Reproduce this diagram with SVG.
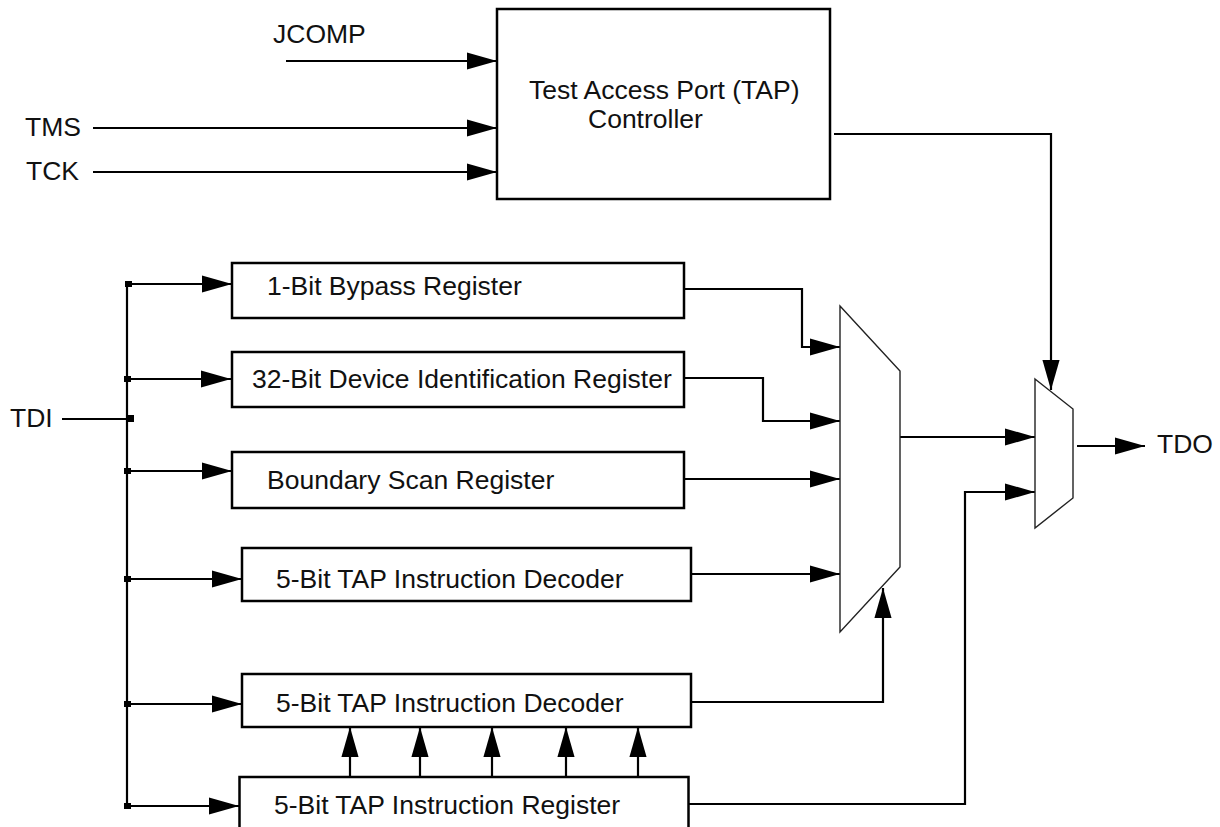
<svg xmlns="http://www.w3.org/2000/svg" width="1220" height="827" viewBox="0 0 1220 827">
<style>
text{font-family:"Liberation Sans",Arial,sans-serif;font-size:26.5px;fill:#111}
.box{fill:#fff;stroke:#000;stroke-width:2.5}
.mux{fill:#fff;stroke:#222;stroke-width:1.4}
.w{fill:none;stroke:#000;stroke-width:2.2}
.a{marker-end:url(#ah)}
.j{fill:#000}
</style>
<defs>
<marker id="ah" markerUnits="userSpaceOnUse" markerWidth="30" markerHeight="18" viewBox="0 0 28 16" refX="28" refY="8" orient="auto">
<path d="M0,0 L28,8 L0,16 z" fill="#000"/>
</marker>
</defs>
<rect width="1220" height="827" fill="#fff"/>
<g id="connectors">
<path class="w a" d="M286,61 H497"/>
<path class="w a" d="M93,128 H497"/>
<path class="w a" d="M93,172 H497"/>
<path class="w" d="M62,419 H127"/>
<path class="w" d="M127,281 V806"/>
<path class="w a" d="M127,284 H232"/>
<path class="w a" d="M127,379 H231"/>
<path class="w a" d="M127,471 H232"/>
<path class="w a" d="M127,579 H242"/>
<path class="w a" d="M127,704 H242"/>
<path class="w a" d="M127,806 H239"/>
<rect class="j" x="125" y="281" width="7" height="6"/>
<rect class="j" x="124" y="376" width="7" height="6"/>
<rect class="j" x="127" y="415" width="7" height="7"/>
<rect class="j" x="124" y="468" width="7" height="6"/>
<rect class="j" x="124" y="576" width="7" height="6"/>
<rect class="j" x="124" y="701" width="7" height="6"/>
<rect class="j" x="124" y="803" width="7" height="6"/>
<path class="w a" d="M684,289 H802 V347 H840"/>
<path class="w a" d="M684,378 H763 V421 H840"/>
<path class="w a" d="M684,479 H840"/>
<path class="w a" d="M691,574 H840"/>
<path class="w a" d="M691,702 H883 V588"/>
<path class="w a" d="M688,804 H965 V492 H1035"/>
<path class="w a" d="M834,134 H1051 V390"/>
<path class="w a" d="M900,437 H1035"/>
<path class="w a" d="M1077,446 H1145"/>
<path class="w a" d="M350,777 V727"/>
<path class="w a" d="M420,777 V727"/>
<path class="w a" d="M492,777 V727"/>
<path class="w a" d="M566,777 V727"/>
<path class="w a" d="M638,777 V727"/>
</g>
<g id="labels">
<text x="273" y="43">JCOMP</text>
<text x="25" y="136">TMS</text>
<text x="26" y="180">TCK</text>
<text x="10" y="427">TDI</text>
<text x="1157" y="453">TDO</text>
</g>
<g id="tap">
<rect class="box" x="497" y="9" width="333" height="190"/>
<text x="529" y="99">Test Access Port (TAP)</text>
<text x="588" y="128">Controller</text>
</g>
<g id="bypass">
<rect class="box" x="232" y="263" width="452" height="55"/>
<text x="267" y="295">1-Bit Bypass Register</text>
</g>
<g id="devid">
<rect class="box" x="232" y="352" width="452" height="55"/>
<text x="252" y="388">32-Bit Device Identification Register</text>
</g>
<g id="bsr">
<rect class="box" x="232" y="452" width="452" height="56"/>
<text x="267" y="489">Boundary Scan Register</text>
</g>
<g id="decoder1">
<rect class="box" x="242" y="548" width="449" height="53"/>
<text x="276" y="588">5-Bit TAP Instruction Decoder</text>
</g>
<g id="decoder2">
<rect class="box" x="242" y="674" width="449" height="53"/>
<text x="276" y="712">5-Bit TAP Instruction Decoder</text>
</g>
<g id="ireg">
<rect class="box" x="239.5" y="777" width="449" height="70"/>
<text x="274" y="814">5-Bit TAP Instruction Register</text>
</g>
<g id="mux1">
<polygon class="mux" points="840,306 900,371 900,567 840,632"/>
</g>
<g id="mux2">
<polygon class="mux" points="1035,379 1073,409 1073,498 1035,528"/>
</g>
</svg>
